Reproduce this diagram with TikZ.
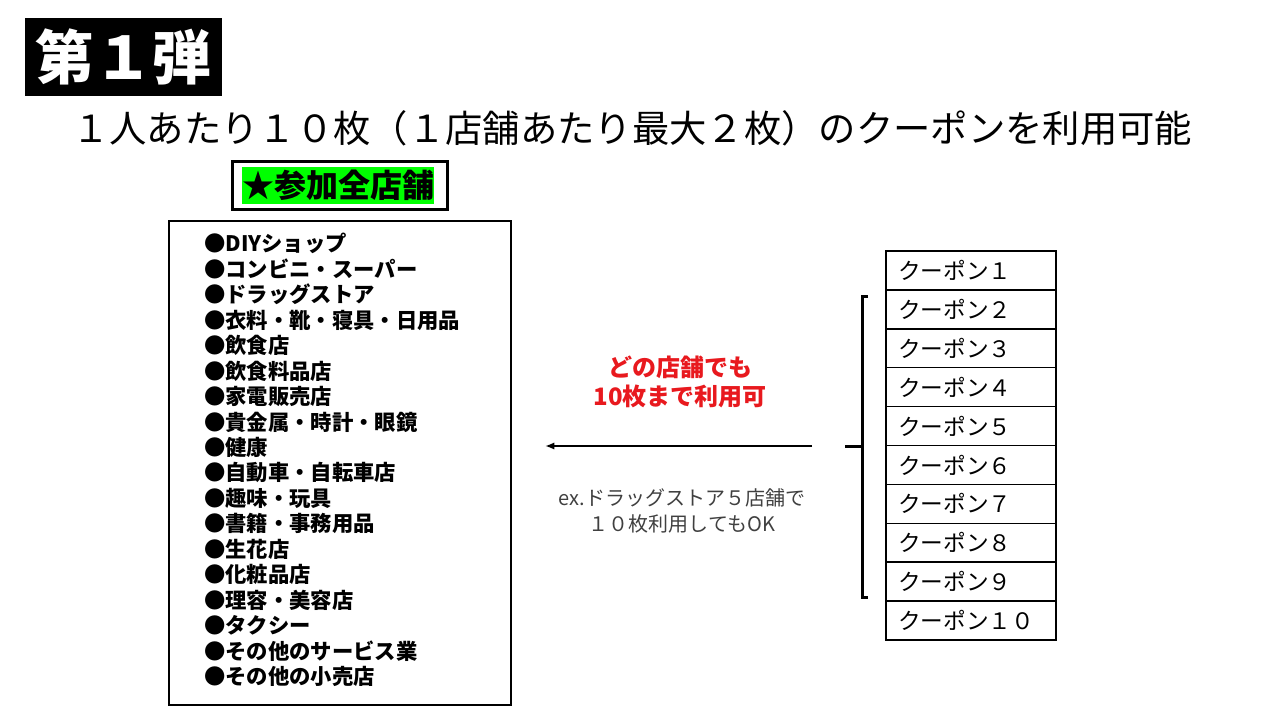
\documentclass[tikz,border=0pt]{standalone}
\usepackage{fontspec}
\setmainfont{Noto Sans CJK JP}
\usetikzlibrary{arrows.meta}
\definecolor{tagGreen}{HTML}{00FF00}
\definecolor{noteRed}{HTML}{E8191E}
\definecolor{noteGray}{HTML}{404040}
\tikzset{
  coupon/.style={draw, line width=1.1pt, minimum height=29.2pt, text width=109.5pt,
    inner xsep=9pt, align=left, font=\fontsize{17}{17}\selectfont},
  framebox/.style={draw, line width=#1, inner sep=0pt},
}
\begin{document}
\begin{tikzpicture}[x=0.75pt, y=-0.75pt]
    \useasboundingbox (0,0) rectangle (1280,720);
    \node[fill=black, text=white, minimum width=148pt, minimum height=58.5pt,
      font=\bfseries\fontsize{44}{44}\selectfont] (title) at (123.5,57) {第１弾};
    \node[font=\fontsize{28}{28}\selectfont] (rule) at (632,128)
      {１人あたり１０枚（１店舗あたり最大２枚）のクーポンを利用可能};
    % shops
    \node[framebox=2.25pt, minimum width=161.25pt, minimum height=36pt] (tagframe) at (339.5,186) {};
    \node[fill=tagGreen, inner sep=0pt, minimum width=144pt, minimum height=27.75pt,
      font=\bfseries\fontsize{24}{24}\selectfont] (tag) at (338,185.5) {★参加全店舗};
    \node[framebox=1.5pt, minimum width=256.5pt, minimum height=363pt] (shopbox) at (340,463) {};
    \node[anchor=north west, align=left, inner sep=0pt,
      font=\bfseries\fontsize{16}{19.1}\selectfont] (shoplist) at (204,233)
      {●DIYショップ\\●コンビニ・スーパー\\●ドラッグストア\\●衣料・靴・寝具・日用品\\
       ●飲食店\\●飲食料品店\\●家電販売店\\●貴金属・時計・眼鏡\\●健康\\
       ●自動車・自転車店\\●趣味・玩具\\●書籍・事務用品\\●生花店\\●化粧品店\\
       ●理容・美容店\\●タクシー\\●その他のサービス業\\●その他の小売店};
    % middle notes
    \node[align=center, text=noteRed, font=\bfseries\fontsize{18}{21.75}\selectfont]
      (anyshop) at (680,382) {どの店舗でも\\10枚まで利用可};
    \node[align=center, text=noteGray, font=\fontsize{15}{19.5}\selectfont]
      (example) at (682,511) {ex.ドラッグストア５店舗で\\１０枚利用してもOK};
    \coordinate (from) at (812,446);
    \coordinate (to) at (545,446);
    \draw[-{Latex[length=7pt,width=5.5pt]}, line width=1.5pt] (from) -- (to);
    % coupons
    \foreach \i/\lab in {1/１,2/２,3/３,4/４,5/５,6/６,7/７,8/８,9/９,10/１０}
      \node[coupon] (c\i) at (971,{270.45+38.9*(\i-1)}) {クーポン\lab};
    \draw[line width=2.25pt] (868,296) -- (862,296) -- (862,597) -- (868,597);
    \draw[line width=2.25pt] (862,446) -- (845,446);  % brace tip
\end{tikzpicture}
\end{document}
